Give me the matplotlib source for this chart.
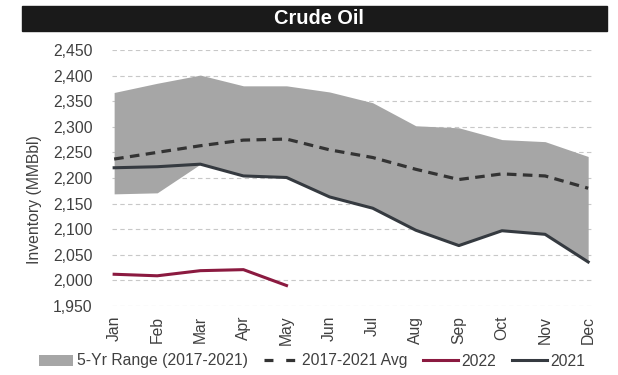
import matplotlib
matplotlib.use("Agg")
import matplotlib.pyplot as plt
from matplotlib.patches import Rectangle

plt.rcParams['font.family'] = ['Liberation Sans', 'DejaVu Sans']

months = ["Jan", "Feb", "Mar", "Apr", "May", "Jun",
          "Jul", "Aug", "Sep", "Oct", "Nov", "Dec"]

# 5-yr range (2017-2021)
range_hi = [2367, 2385, 2401, 2380, 2380, 2368, 2347, 2302, 2298, 2275, 2271, 2242]
range_lo = [2169, 2171, 2227, 2204, 2201, 2163, 2141, 2098, 2068, 2097, 2090, 2036]
avg = [2237, 2250, 2263, 2274, 2276, 2255, 2240, 2217, 2197, 2208, 2204, 2180]
y2021 = [2220, 2222, 2227, 2204, 2201, 2163, 2141, 2098, 2068, 2097, 2090, 2036]
y2022 = [2012, 2009, 2019, 2021, 1990]

yticks = list(range(1950, 2451, 50))

txt = "#404040"
fs = 11.3

fig = plt.figure(figsize=(6.18, 3.75), dpi=100)
ax = fig.add_axes([0.1812, 0.184, 0.7768, 0.6827])

x = list(range(len(months)))
ax.fill_between(x, range_lo, range_hi, color="#a6a6a6", lw=0,
                label="5-Yr Range (2017-2021)", zorder=2)
ax.plot(x, avg, color="#333333", lw=2.3, dashes=(3.0, 2.0),
        label="2017-2021 Avg", zorder=3)
ax.plot(x[:len(y2022)], y2022, color="#8b1a40", lw=2.2, label="2022", zorder=3)
ax.plot(x, y2021, color="#353a40", lw=2.2, label="2021", zorder=3)

ax.set_xlim(-0.05, 11.09)
ax.set_ylim(1950, 2450)
ax.set_yticks(yticks)
ax.set_yticklabels([f"{v:,}" for v in yticks])
ax.set_xticks(x)
ax.set_xticklabels(months, rotation=90)
ax.tick_params(length=0, labelsize=fs, labelcolor=txt)
ax.tick_params(axis="y", pad=14)
ax.tick_params(axis="x", pad=7)
ax.grid(axis="y", color="#c8c8c8", lw=0.8, ls=(0, (4, 3)), zorder=1)
for s in ax.spines.values():
    s.set_visible(False)

fig.text(35 / 618, 1 - 200 / 375, "Inventory (MMBbl)", rotation=90,
         ha="center", va="center", fontsize=fs, color=txt)

# title bar
fig.patches.append(Rectangle((0.0356, 0.9173), 0.9466, 0.0667,
                             transform=fig.transFigure, color="#1a1a1a"))
fig.text(0.516, 0.9507, "Crude Oil", ha="center", va="center",
         fontsize=14.4, fontweight="bold", color="white")

leg = fig.legend(loc="center", bbox_to_anchor=(312 / 618, 1 - 361 / 375), ncol=4,
                 frameon=False, fontsize=fs, labelcolor=txt, handlelength=2.2,
                 handletextpad=0.25, columnspacing=1.0, borderaxespad=0)
leg.get_lines()[0].set_dashes((2.8, 4.0))

fig.savefig("out.png", dpi=100)
